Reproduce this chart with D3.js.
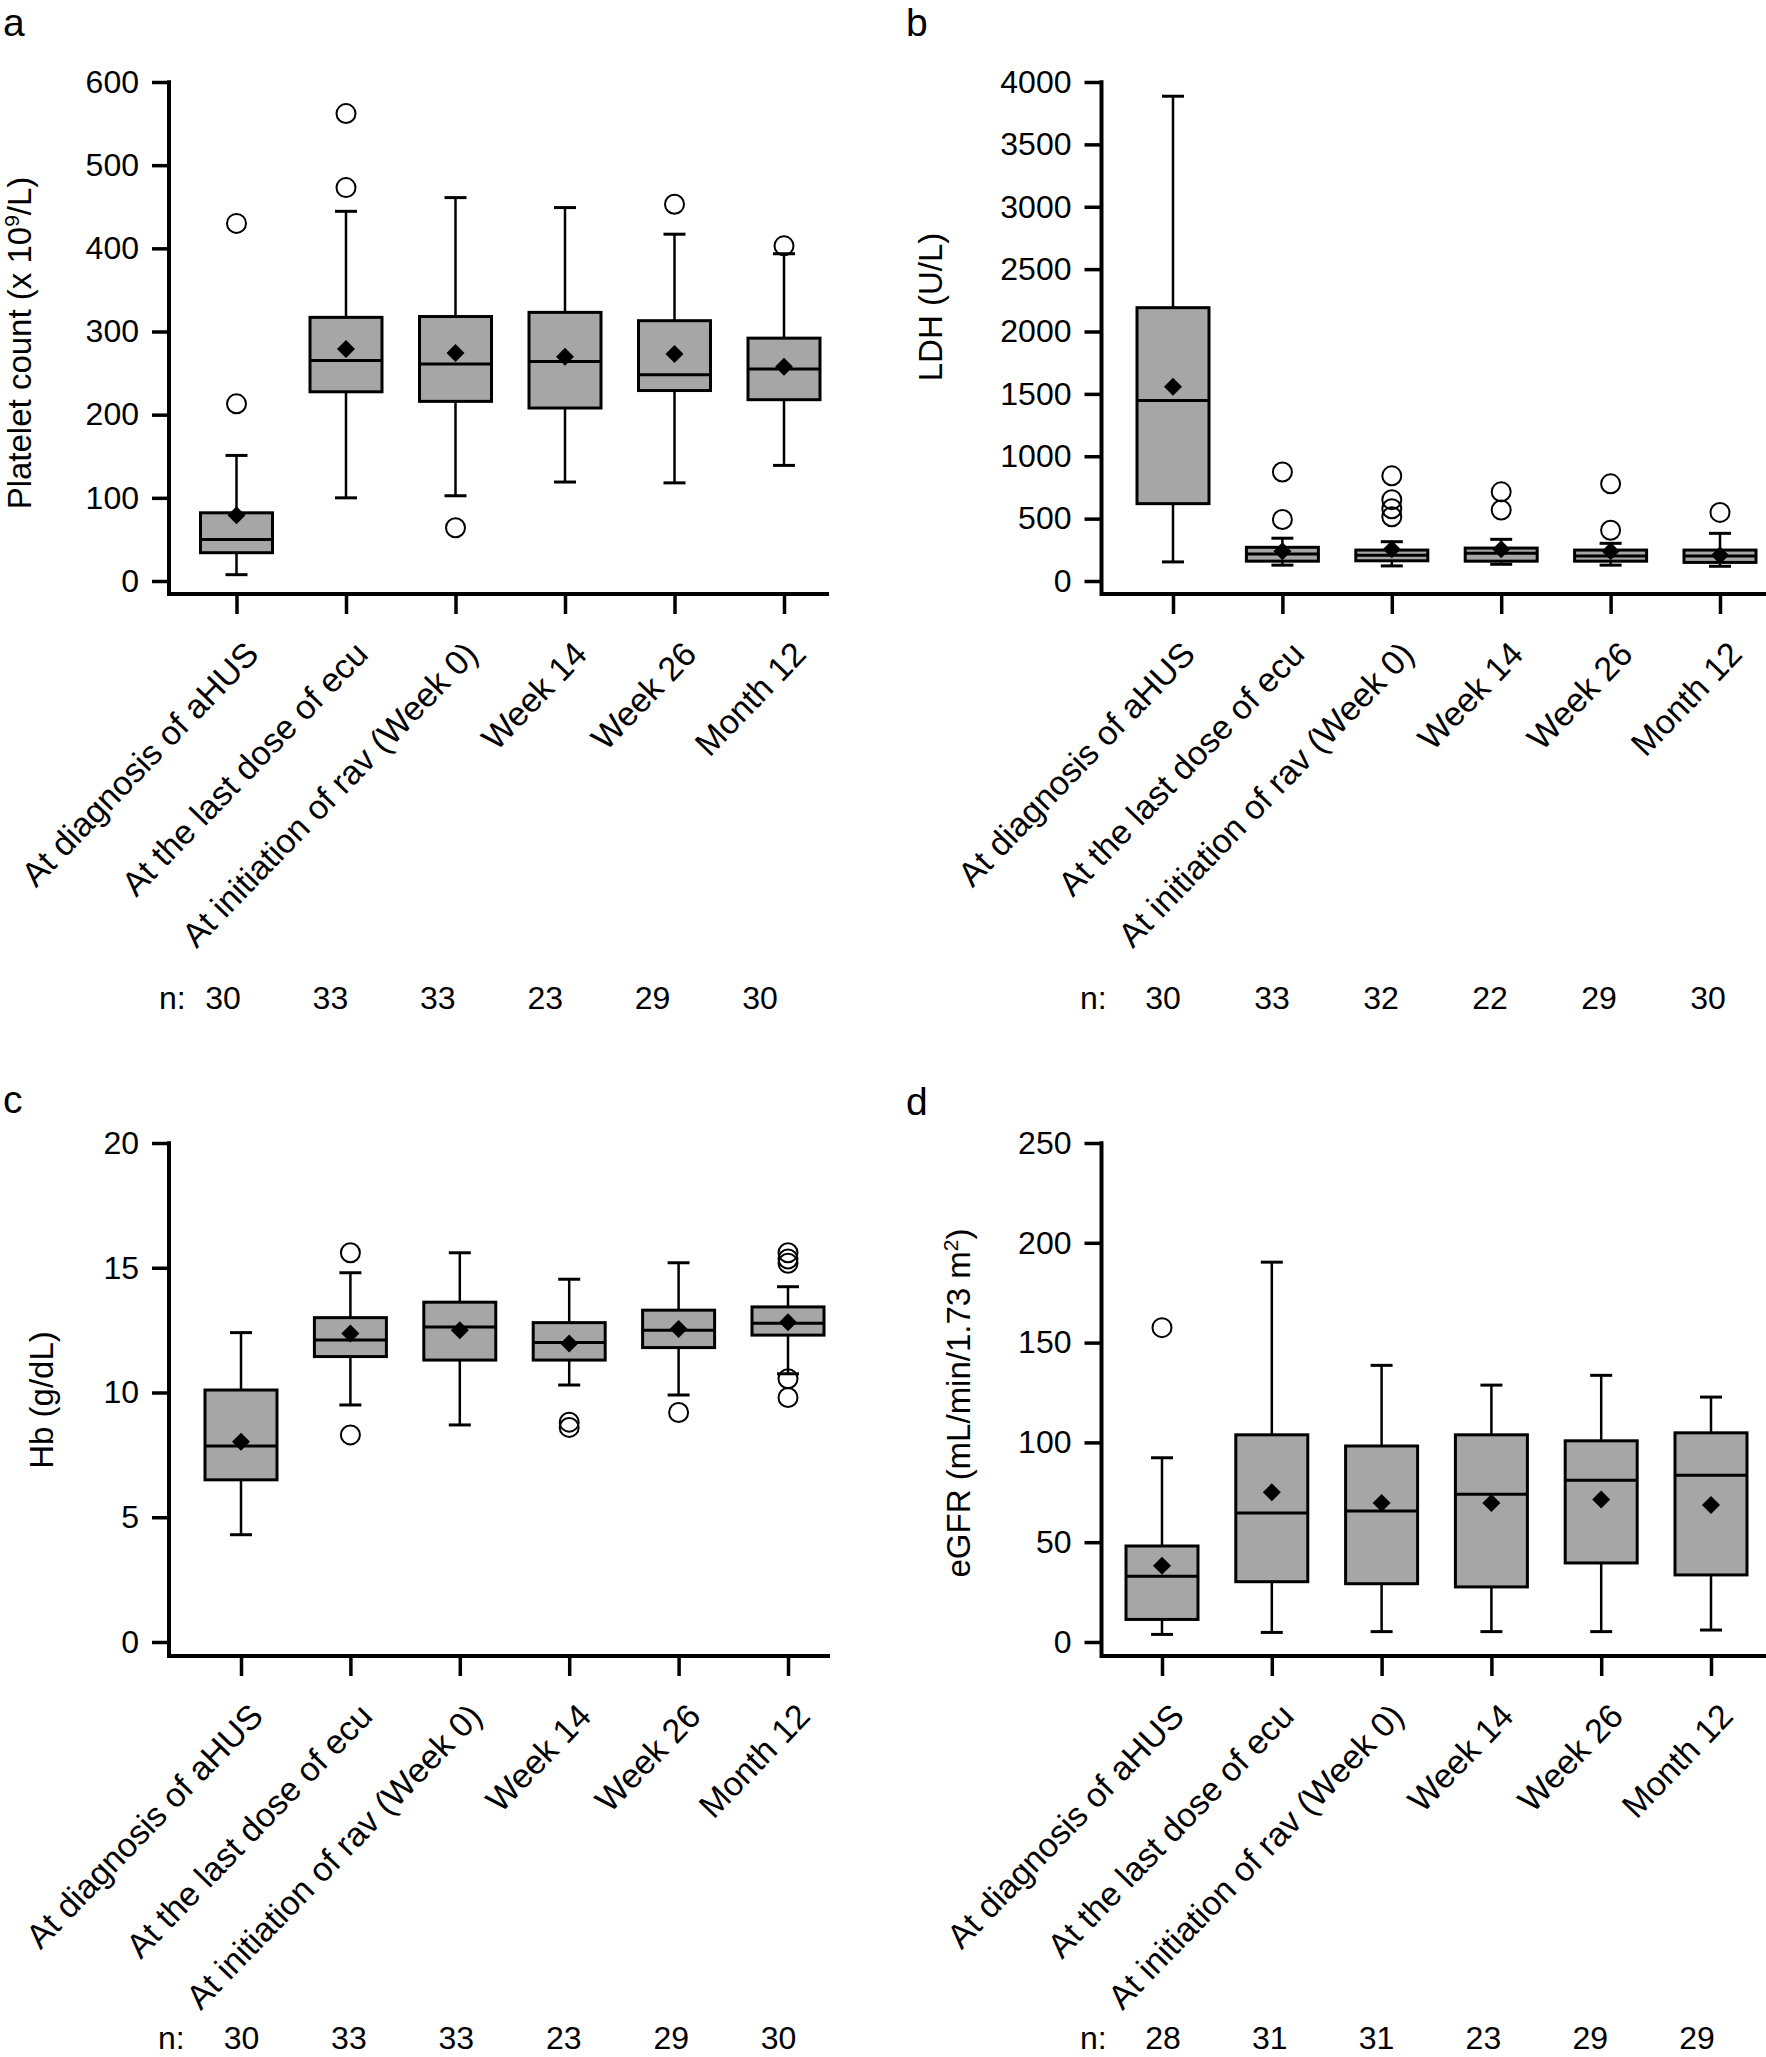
<!DOCTYPE html>
<html>
<head>
<meta charset="utf-8">
<script src="https://cdn.jsdelivr.net/npm/d3@7"></script>
<style>
  body { margin: 0; background: #fff; }
  svg text { font-family: "Liberation Sans", Arial, Helvetica, sans-serif; fill: #000; }
</style>
</head>
<body>
<div id="chart"></div>
<script>
var FONT = '"Liberation Sans", Arial, Helvetica, sans-serif';

var categories = ['At diagnosis of aHUS', 'At the last dose of ecu', 'At initiation of rav (Week 0)', 'Week 14', 'Week 26', 'Month 12'];

// a - platelet count (x 10^9/L)
var plateletMin = [7.6, 100, 102.5, 119, 118, 139];
var plateletQ1 = [34, 227.5, 216, 208, 229, 218];
var plateletMed = [50, 265, 261, 264, 248, 255];
var plateletQ3 = [82, 317, 318, 323, 313, 292];
var plateletMax = [151, 444.5, 461, 449, 417, 393.5];
var plateletMean = [79, 279, 274, 269.5, 273, 257.5];
var plateletOut = [[430, 213], [562, 473], [64], [], [453], [403]];
var plateletN = [30, 33, 33, 23, 29, 30];

// b - LDH (U/L)
var ldhMin = [153, 127, 121, 134, 127, 118];
var ldhQ1 = [620, 159, 162, 159, 159, 149];
var ldhMed = [1447, 216, 207, 223, 200, 200];
var ldhQ3 = [2191, 270, 248, 264, 248, 248];
var ldhMax = [3886, 343, 315, 334, 302, 382];
var ldhMean = [1558, 238, 254, 254, 238, 207];
var ldhOut = [[], [874, 493], [843, 652, 579, 515], [715, 569], [779, 407], [550]];
var ldhN = [30, 33, 32, 22, 29, 30];

// c - Hb (g/dL)
var hbMin = [4.3, 9.5, 8.7, 10.3, 9.9, 10.75];
var hbQ1 = [6.5, 11.44, 11.3, 11.3, 11.8, 12.3];
var hbMed = [7.86, 12.1, 12.63, 12.0, 12.5, 12.78];
var hbQ3 = [10.1, 13.0, 13.62, 12.8, 13.3, 13.43];
var hbMax = [12.4, 14.8, 15.6, 14.54, 15.2, 14.24];
var hbMean = [8.03, 12.36, 12.49, 11.96, 12.55, 12.82];
var hbOut = [[], [15.6, 8.3], [], [8.81, 8.6], [9.2], [15.6, 15.35, 15.18, 10.55, 9.8]];
var hbN = [30, 33, 33, 23, 29, 30];

// d - eGFR (mL/min/1.73 m2)
var egfrMin = [3.8, 4.8, 5.2, 5.2, 5.2, 6];
var egfrQ1 = [11.3, 30.2, 29.2, 27.6, 39.6, 33.6];
var egfrMed = [33, 64.6, 65.6, 74, 81, 83.5];
var egfrQ3 = [48.1, 103.8, 98.2, 103.8, 100.8, 104.8];
var egfrMax = [92.3, 190.3, 138.6, 128.7, 133.6, 122.7];
var egfrMean = [38.2, 75, 69.6, 69.6, 71.4, 68.6];
var egfrOut = [[157.5], [], [], [], [], []];
var egfrN = [28, 31, 31, 23, 29, 29];

function buildStats(mn, q1, med, q3, mx, mean, out) {
  return categories.map(function (c, i) {
    return { cat: c, min: mn[i], q1: q1[i], med: med[i], q3: q3[i], max: mx[i], mean: mean[i], out: out[i] };
  });
}

var svg = d3.select('#chart').append('svg')
  .attr('width', 1766)
  .attr('height', 2057);

var panels = [
  { letter: 'a', lx: 3, ly: 36, left: 169, top: 82, zero: 581, axisY: 594, right: 829,
    first: 236.5, last: 784, yMax: 600, step: 100,
    title: ['Platelet count (x 10', '9', '/L)'], tx: 31, ty: 343,
    nX: 159, nFirst: 223, nLast: 760, nY: 1009, n: plateletN,
    stats: buildStats(plateletMin, plateletQ1, plateletMed, plateletQ3, plateletMax, plateletMean, plateletOut) },
  { letter: 'b', lx: 906, ly: 36, left: 1101.5, top: 82, zero: 581, axisY: 594, right: 1766,
    first: 1173, last: 1720, yMax: 4000, step: 500,
    title: ['LDH (U/L)'], tx: 942, ty: 307,
    nX: 1080, nFirst: 1163, nLast: 1708, nY: 1009, n: ldhN,
    stats: buildStats(ldhMin, ldhQ1, ldhMed, ldhQ3, ldhMax, ldhMean, ldhOut) },
  { letter: 'c', lx: 3, ly: 1113, left: 169, top: 1143, zero: 1642, axisY: 1656, right: 830,
    first: 241, last: 788, yMax: 20, step: 5,
    title: ['Hb (g/dL)'], tx: 53, ty: 1400,
    nX: 158, nFirst: 241.5, nLast: 778.6, nY: 2049, n: hbN,
    stats: buildStats(hbMin, hbQ1, hbMed, hbQ3, hbMax, hbMean, hbOut) },
  { letter: 'd', lx: 906, ly: 1115, left: 1101.5, top: 1143, zero: 1642, axisY: 1656, right: 1766,
    first: 1162, last: 1711, yMax: 250, step: 50,
    title: ['eGFR (mL/min/1.73 m', '2', ')'], tx: 970, ty: 1403,
    nX: 1080, nFirst: 1163, nLast: 1697, nY: 2049, n: egfrN,
    stats: buildStats(egfrMin, egfrQ1, egfrMed, egfrQ3, egfrMax, egfrMean, egfrOut) }
];

panels.forEach(drawPanel);

function drawPanel(p) {
  var g = svg.append('g');
  var y = d3.scaleLinear().domain([0, p.yMax]).range([p.zero, p.top]);
  var x = d3.scalePoint().domain(categories).range([p.first, p.last]);

  // panel letter
  g.append('text')
    .attr('x', p.lx).attr('y', p.ly)
    .attr('font-size', 39)
    .text(p.letter);

  // y axis ticks + labels
  var ya = g.append('g')
    .attr('transform', 'translate(' + p.left + ',0)')
    .call(d3.axisLeft(y)
      .tickValues(d3.range(0, p.yMax + 1, p.step))
      .tickFormat(d3.format('d'))
      .tickSize(17)
      .tickPadding(13));
  ya.select('.domain').remove();
  ya.attr('font-size', 32).attr('font-family', FONT);
  ya.selectAll('line').attr('stroke', '#000').attr('stroke-width', 3.5);
  ya.selectAll('text').attr('fill', '#000');

  // x axis ticks (detached below the axis line)
  var xa = g.append('g')
    .attr('transform', 'translate(0,' + (p.axisY + 2) + ')')
    .call(d3.axisBottom(x).tickSize(18).tickFormat(''));
  xa.select('.domain').remove();
  xa.selectAll('line').attr('stroke', '#000').attr('stroke-width', 3.5);

  // L-shaped axis line
  g.append('path')
    .attr('d', 'M' + p.left + ',' + (p.top - 1.75) + 'V' + p.axisY + 'H' + p.right)
    .attr('fill', 'none')
    .attr('stroke', '#000')
    .attr('stroke-width', 4);

  // category labels
  g.selectAll('text.cat')
    .data(categories)
    .enter()
    .append('text')
    .attr('class', 'cat')
    .attr('font-size', 34)
    .attr('text-anchor', 'end')
    .attr('transform', function (d) {
      return 'translate(' + (x(d) + 24) + ',' + (p.axisY + 62) + ') rotate(-46)';
    })
    .text(function (d) { return d; });

  // y title
  var t = g.append('text')
    .attr('font-size', 33)
    .attr('text-anchor', 'middle')
    .attr('transform', 'translate(' + p.tx + ',' + p.ty + ') rotate(-90)');
  t.append('tspan').text(p.title[0]);
  if (p.title.length > 1) {
    t.append('tspan').attr('font-size', 21).attr('dy', -12).text(p.title[1]);
    t.append('tspan').attr('dy', 12).text(p.title[2]);
  }

  // n row
  g.append('text')
    .attr('x', p.nX).attr('y', p.nY)
    .attr('font-size', 32)
    .text('n:');
  var nx = d3.scalePoint().domain(categories).range([p.nFirst, p.nLast]);
  g.selectAll('text.n')
    .data(p.n)
    .enter()
    .append('text')
    .attr('class', 'n')
    .attr('font-size', 32)
    .attr('text-anchor', 'middle')
    .attr('x', function (d, i) { return nx(categories[i]); })
    .attr('y', p.nY)
    .text(function (d) { return d; });

  // boxes
  var bw = 72, cap = 11;
  var box = g.selectAll('g.box')
    .data(p.stats)
    .enter()
    .append('g')
    .attr('class', 'box');

  box.append('line')
    .attr('x1', function (d) { return x(d.cat); })
    .attr('x2', function (d) { return x(d.cat); })
    .attr('y1', function (d) { return y(d.min); })
    .attr('y2', function (d) { return y(d.q1); })
    .attr('stroke', '#000').attr('stroke-width', 2.5);
  box.append('line')
    .attr('x1', function (d) { return x(d.cat); })
    .attr('x2', function (d) { return x(d.cat); })
    .attr('y1', function (d) { return y(d.q3); })
    .attr('y2', function (d) { return y(d.max); })
    .attr('stroke', '#000').attr('stroke-width', 2.5);
  ['min', 'max'].forEach(function (k) {
    box.append('line')
      .attr('x1', function (d) { return x(d.cat) - cap; })
      .attr('x2', function (d) { return x(d.cat) + cap; })
      .attr('y1', function (d) { return y(d[k]); })
      .attr('y2', function (d) { return y(d[k]); })
      .attr('stroke', '#000').attr('stroke-width', 3);
  });

  box.append('rect')
    .attr('x', function (d) { return x(d.cat) - bw / 2; })
    .attr('y', function (d) { return y(d.q3); })
    .attr('width', bw)
    .attr('height', function (d) { return y(d.q1) - y(d.q3); })
    .attr('fill', '#a6a6a6')
    .attr('stroke', '#000')
    .attr('stroke-width', 3);

  box.append('line')
    .attr('x1', function (d) { return x(d.cat) - bw / 2; })
    .attr('x2', function (d) { return x(d.cat) + bw / 2; })
    .attr('y1', function (d) { return y(d.med); })
    .attr('y2', function (d) { return y(d.med); })
    .attr('stroke', '#000').attr('stroke-width', 3);

  box.append('path')
    .attr('d', function (d) {
      var cx = x(d.cat), cy = y(d.mean), r = 9;
      return 'M' + cx + ',' + (cy - r) + 'L' + (cx + r) + ',' + cy + 'L' + cx + ',' + (cy + r) + 'L' + (cx - r) + ',' + cy + 'Z';
    })
    .attr('fill', '#000');

  box.selectAll('circle')
    .data(function (d) { return d.out.map(function (v) { return { cat: d.cat, v: v }; }); })
    .enter()
    .append('circle')
    .attr('cx', function (d) { return x(d.cat); })
    .attr('cy', function (d) { return y(d.v); })
    .attr('r', 9.5)
    .attr('fill', 'none')
    .attr('stroke', '#000')
    .attr('stroke-width', 2);
}
</script>
</body>
</html>
